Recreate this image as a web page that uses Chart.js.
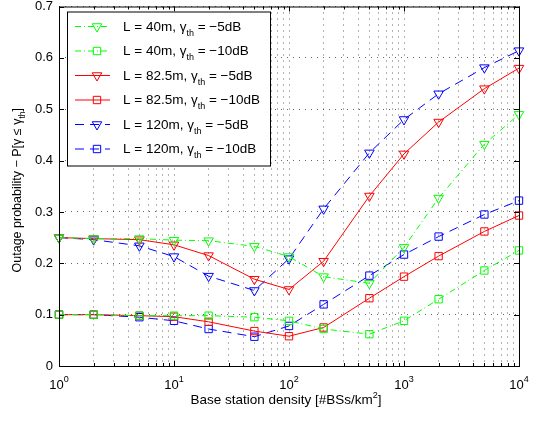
<!DOCTYPE html>
<html>
<head>
<meta charset="utf-8">
<script src="https://cdn.jsdelivr.net/npm/chart.js@4.4.1/dist/chart.umd.min.js"></script>
<style>
  html, body { margin: 0; padding: 0; background: #fff; }
  #wrap { width: 533px; height: 422px; position: relative; }
</style>
</head>
<body>
<div id="wrap"><canvas id="outage-chart"></canvas></div>
<script>
// base station density (BSs/km^2)
const densities = [1, 2, 5, 10, 20, 50, 100, 200, 500, 1000, 2000, 5000, 10000];

// outage probability per series
const l40Minus5 = [0.250, 0.248, 0.248, 0.245, 0.244, 0.233, 0.213, 0.174, 0.161, 0.231, 0.327, 0.432, 0.490];
const l40Minus10 = [0.100, 0.100, 0.098, 0.098, 0.098, 0.095, 0.088, 0.072, 0.062, 0.088, 0.130, 0.186, 0.225];
const l82Minus5 = [0.250, 0.248, 0.246, 0.236, 0.215, 0.169, 0.149, 0.204, 0.331, 0.413, 0.475, 0.540, 0.580];
const l82Minus10 = [0.100, 0.100, 0.098, 0.096, 0.086, 0.068, 0.058, 0.075, 0.132, 0.174, 0.214, 0.262, 0.293];
const l120Minus5 = [0.250, 0.246, 0.234, 0.213, 0.175, 0.147, 0.209, 0.306, 0.415, 0.480, 0.530, 0.581, 0.614];
const l120Minus10 = [0.100, 0.100, 0.095, 0.088, 0.072, 0.057, 0.078, 0.120, 0.176, 0.217, 0.252, 0.295, 0.322];

const seriesLengths = ['40m', '40m', '82.5m', '82.5m', '120m', '120m'];
const seriesThresholds = ['\u22125dB', '\u221210dB', '\u22125dB', '\u221210dB', '\u22125dB', '\u221210dB'];

const yTicks = [0, 0.1, 0.2, 0.3, 0.4, 0.5, 0.6, 0.7];
const xDecades = [1, 10, 100, 1000, 10000];

const GREEN = 'rgb(0,255,0)';
const RED = 'rgb(255,0,0)';
const BLUE = 'rgb(0,0,255)';
const FONT = '"Liberation Sans", Arial, Helvetica, sans-serif';

function makeSeries(data, color, dash, marker, idx) {
    return {
        label: 'L = ' + seriesLengths[idx] + ', \u03b3th = ' + seriesThresholds[idx],
        data: densities.map((d, i) => ({ x: d, y: data[i] })),
        borderColor: color,
        borderWidth: 1,
        borderDash: dash,
        backgroundColor: 'rgba(0,0,0,0)',
        pointStyle: marker,
        pointRotation: marker === 'triangle' ? 180 : 0,
        pointRadius: marker === 'triangle' ? 5.5 : 5.2,
        pointBorderColor: color,
        pointBackgroundColor: 'rgba(0,0,0,0)',
        pointBorderWidth: 1,
        tension: 0,
        clip: false
    };
}

const datasets = [
    makeSeries(l40Minus5, GREEN, [6, 3, 1, 3], 'triangle', 0),
    makeSeries(l40Minus10, GREEN, [6, 3, 1, 3], 'rect', 1),
    makeSeries(l82Minus5, RED, [], 'triangle', 2),
    makeSeries(l82Minus10, RED, [], 'rect', 3),
    makeSeries(l120Minus5, BLUE, [9, 6], 'triangle', 4),
    makeSeries(l120Minus10, BLUE, [9, 6], 'rect', 5)
];

// text with a raised or lowered small part
function drawRich(ctx, parts, x, y, align) {
    let total = 0;
    parts.forEach(p => {
        ctx.font = (p.size || 12) + 'px ' + FONT;
        p.w = ctx.measureText(p.t).width;
        total += p.w;
    });
    let cx = align === 'center' ? x - total / 2 : x;
    ctx.textAlign = 'left';
    ctx.textBaseline = 'alphabetic';
    parts.forEach(p => {
        ctx.font = (p.size || 12) + 'px ' + FONT;
        ctx.fillText(p.t, cx, y + (p.dy || 0));
        cx += p.w;
    });
}

const matlabFrame = {
    id: 'matlabFrame',
    afterDraw(chart) {
        const ctx = chart.ctx;
        const area = chart.chartArea;
        const xs = chart.scales.x;
        const ys = chart.scales.y;
        ctx.save();

        // box
        ctx.strokeStyle = '#000';
        ctx.lineWidth = 1;
        ctx.setLineDash([]);
        ctx.strokeRect(area.left + 0.5, area.top + 0.5, area.right - area.left, area.bottom - area.top);

        // inward tick marks
        ctx.beginPath();
        xs.ticks.forEach(t => {
            const px = Math.round(xs.getPixelForValue(t.value)) + 0.5;
            const major = xDecades.includes(t.value);
            const len = major ? 5 : 3;
            ctx.moveTo(px, area.bottom); ctx.lineTo(px, area.bottom - len);
            ctx.moveTo(px, area.top); ctx.lineTo(px, area.top + len);
        });
        yTicks.forEach(v => {
            const py = Math.round(ys.getPixelForValue(v)) + 0.5;
            ctx.moveTo(area.left, py); ctx.lineTo(area.left + 5, py);
            ctx.moveTo(area.right, py); ctx.lineTo(area.right - 5, py);
        });
        ctx.stroke();

        // tick labels
        ctx.fillStyle = '#000';
        ctx.font = '13px ' + FONT;
        ctx.textAlign = 'right';
        ctx.textBaseline = 'middle';
        yTicks.forEach(v => {
            ctx.fillText(String(v), area.left - 6, ys.getPixelForValue(v));
        });
        xDecades.forEach((v, i) => {
            drawRich(ctx, [
                { t: '10', size: 13 },
                { t: String(i), size: 9, dy: -7 }
            ], xs.getPixelForValue(v), area.bottom + 23, 'center');
        });

        // axis titles
        drawRich(ctx, [
            { t: 'Base station density [#BSs/km', size: 13.5 },
            { t: '2', size: 9, dy: -6 },
            { t: ']', size: 13.5 }
        ], (area.left + area.right) / 2 - 3, area.bottom + 38, 'center');

        ctx.save();
        ctx.translate(21, (area.top + area.bottom) / 2 + 4);
        ctx.rotate(-Math.PI / 2);
        drawRich(ctx, [
            { t: 'Outage probability \u2212 P[\u03b3 \u2264 \u03b3', size: 12.5 },
            { t: 'th', size: 8.5, dy: 4 },
            { t: ']', size: 12.5 }
        ], 0, 0, 'center');
        ctx.restore();

        // legend
        const lx = area.left + 8, ly = area.top + 5, lw = 203, lh = 154;
        ctx.fillStyle = '#fff';
        ctx.fillRect(lx, ly, lw, lh);
        ctx.strokeStyle = '#000';
        ctx.lineWidth = 1;
        ctx.strokeRect(lx + 0.5, ly + 0.5, lw, lh);
        datasets.forEach((ds, i) => {
            const cy = ly + 15 + i * 24.5;
            ctx.strokeStyle = ds.borderColor;
            ctx.lineWidth = 1;
            ctx.setLineDash(ds.borderDash);
            ctx.beginPath();
            ctx.moveTo(lx + 8, cy);
            ctx.lineTo(lx + 43, cy);
            ctx.stroke();
            ctx.setLineDash([]);
            ctx.fillStyle = 'rgba(0,0,0,0)';
            Chart.helpers.drawPoint(ctx, {
                pointStyle: ds.pointStyle,
                rotation: ds.pointRotation,
                radius: ds.pointRadius,
                borderWidth: 1
            }, lx + 30, cy);
            ctx.fillStyle = '#000';
            drawRich(ctx, [
                { t: 'L = ' + seriesLengths[i] + ', \u03b3', size: 13.5 },
                { t: 'th', size: 9, dy: 5 },
                { t: ' = ' + seriesThresholds[i], size: 13.5 }
            ], lx + 56, cy + 4, 'left');
        });
        ctx.restore();
    }
};

const outageCanvas = document.getElementById('outage-chart');
const outageChart = new Chart(outageCanvas, {
    type: 'line',
    data: { datasets: datasets },
    options: {
        responsive: true,
        maintainAspectRatio: false,
        animation: false,
        layout: {
            padding: { left: 59, right: 14, top: 5, bottom: 56 }
        },
        scales: {
            x: {
                type: 'logarithmic',
                min: 1,
                max: 10000,
                afterBuildTicks: function (scale) {
                    const ticks = [];
                    for (let d = 1; d < 10000; d *= 10) {
                        for (let m = 1; m < 10; m++) ticks.push({ value: m * d });
                    }
                    ticks.push({ value: 10000 });
                    scale.ticks = ticks;
                },
                ticks: { display: false, autoSkip: false },
                grid: {
                    color: 'rgba(0,0,0,0.6)',
                    lineWidth: 1,
                    drawTicks: false
                },
                border: { display: false, dash: [1, 5] }
            },
            y: {
                min: 0,
                max: 0.7,
                afterBuildTicks: function (scale) {
                    scale.ticks = yTicks.map(v => ({ value: v }));
                },
                ticks: { display: false },
                grid: {
                    color: 'rgba(0,0,0,0.6)',
                    lineWidth: 1,
                    drawTicks: false
                },
                border: { display: false, dash: [1, 5] }
            }
        },
        plugins: {
            legend: { display: false },
            tooltip: { enabled: false }
        }
    },
    plugins: [matlabFrame]
});
</script>
</body>
</html>
